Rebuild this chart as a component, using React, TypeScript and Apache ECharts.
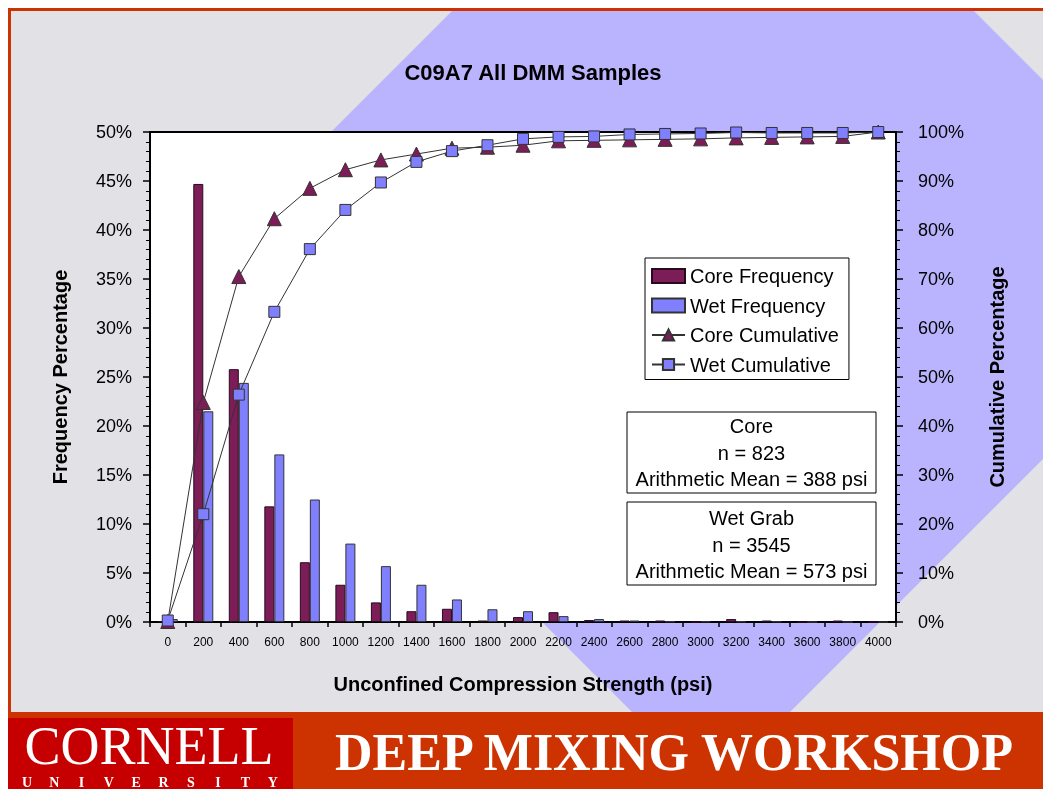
import React, { useEffect, useRef } from 'react';
import * as echarts from 'echarts';

const categories = ['0', '200', '400', '600', '800', '1000', '1200', '1400', '1600', '1800', '2000', '2200', '2400', '2600', '2800', '3000', '3200', '3400', '3600', '3800', '4000'];
const coreFrequency = [0.1, 44.7, 25.8, 11.8, 6.1, 3.8, 2.0, 1.1, 1.35, 0.15, 0.5, 1.0, 0.2, 0.15, 0.15, 0, 0.3, 0.15, 0, 0.15, 0];
const wetFrequency = [0.3, 21.5, 24.4, 17.1, 12.5, 8.0, 5.7, 3.8, 2.3, 1.3, 1.1, 0.6, 0.3, 0.15, 0.05, 0.05, 0.05, 0.05, 0, 0, 0];
const coreCumulative = [0.1, 44.8, 70.5, 82.3, 88.5, 92.3, 94.3, 95.5, 96.7, 96.9, 97.3, 98.2, 98.3, 98.4, 98.5, 98.6, 98.8, 98.9, 99.0, 99.1, 100];
const wetCumulative = [0.3, 22.0, 46.4, 63.3, 76.1, 84.1, 89.7, 93.9, 96.1, 97.3, 98.6, 99.0, 99.1, 99.5, 99.6, 99.7, 99.9, 99.8, 99.8, 99.8, 100];
const leftTickStep = 5;
const rightTickStep = 10;

const FONT = '"Liberation Sans", Arial, sans-serif';
const SERIF = '"Liberation Serif", "Times New Roman", serif';
const CORE_COLOR = '#7c1d58';
const WET_COLOR = '#8080ff';
const universityLetters = ['U', 'N', 'I', 'V', 'E', 'R', 'S', 'I', 'T', 'Y'];

export default function App() {
  const ref = useRef<HTMLDivElement>(null);
  useEffect(() => {
    if (!ref.current) return;
    const chart = echarts.init(ref.current, null, { renderer: 'svg' });

    const boxText = (lines: string[], x: number, ys: number[]) =>
      lines.map((t, i) => ({
        type: 'text',
        z: 101,
        style: { text: t, x, y: ys[i], textAlign: 'center', textVerticalAlign: 'middle', fontSize: 20, fontFamily: FONT, fill: '#000' },
      }));

    const option: any = {
      animation: false,
      textStyle: { fontFamily: FONT },
      title: {
        text: 'C09A7 All DMM Samples',
        left: 528,
        top: 55,
        textAlign: 'center',
        textStyle: { fontSize: 22, fontWeight: 'bold', color: '#000', fontFamily: FONT, lineHeight: 24 },
      },
      graphic: [
        { type: 'rect', z: -30, shape: { x: 8, y: 8, width: 1035, height: 781 }, style: { fill: '#cc3300' } },
        { type: 'rect', z: -29, shape: { x: 11, y: 11, width: 1032, height: 701 }, style: { fill: '#e2e2e6' } },
        {
          type: 'polygon', z: -28,
          shape: { points: [[452, 11], [974, 11], [1043, 80], [1043, 459], [790, 712], [632, 712], [191.5, 271.5]] },
          style: { fill: '#b9b4fd' },
        },
        { type: 'rect', z: -27, shape: { x: 8, y: 718, width: 285, height: 71 }, style: { fill: '#c60000' } },
        {
          type: 'text', z: -26,
          style: { text: 'CORNELL', x: 149, y: 746, textAlign: 'center', textVerticalAlign: 'middle', fontSize: 54, fontFamily: SERIF, fill: '#fff' },
        },
        ...universityLetters.map((l, i) => ({
          type: 'text', z: -26,
          style: { text: l, x: 27 + i * 27.3, y: 782, textAlign: 'center', textVerticalAlign: 'middle', fontSize: 14, fontWeight: 'bold', fontFamily: SERIF, fill: '#fff' },
        })),
        {
          type: 'text', z: -26,
          style: { text: 'DEEP MIXING WORKSHOP', x: 674, y: 752, textAlign: 'center', textVerticalAlign: 'middle', fontSize: 52, fontWeight: 'bold', fontFamily: SERIF, fill: '#fff' },
        },
        { type: 'rect', z: 100, shape: { x: 627, y: 412, width: 249, height: 81 }, style: { fill: '#fff', stroke: '#000', lineWidth: 1 } },
        ...boxText(['Core', 'n = 823', 'Arithmetic Mean = 388 psi'], 751.5, [426, 452.5, 479]),
        { type: 'rect', z: 100, shape: { x: 627, y: 502, width: 249, height: 83 }, style: { fill: '#fff', stroke: '#000', lineWidth: 1 } },
        ...boxText(['Wet Grab', 'n = 3545', 'Arithmetic Mean = 573 psi'], 751.5, [518, 544.5, 571]),
      ],
      legend: {
        orient: 'vertical',
        left: 645,
        top: 258,
        padding: [8, 10, 5, 6],
        itemGap: 9.5,
        itemWidth: 33,
        itemHeight: 14,
        selectedMode: false,
        backgroundColor: '#fff',
        borderColor: '#000',
        borderWidth: 1,
        textStyle: { fontSize: 20, lineHeight: 20, color: '#000', fontFamily: FONT },
        data: [
          { name: 'Core Frequency', icon: 'rect' },
          { name: 'Wet Frequency', icon: 'rect' },
          { name: 'Core Cumulative' },
          { name: 'Wet Cumulative' },
        ],
      },
      grid: {
        left: 150,
        right: 147,
        top: 132,
        bottom: 167,
        show: true,
        backgroundColor: '#fff',
        borderColor: '#000',
        borderWidth: 2,
      },
      xAxis: {
        type: 'category',
        data: categories,
        boundaryGap: true,
        axisLine: { lineStyle: { color: '#000', width: 2 } },
        axisTick: { show: true, length: 5, lineStyle: { color: '#000', width: 1.5 } },
        axisLabel: { interval: 0, fontSize: 12, color: '#000', margin: 14, fontFamily: FONT },
        name: 'Unconfined Compression Strength (psi)',
        nameLocation: 'middle',
        nameGap: 52,
        nameTextStyle: { fontSize: 20, fontWeight: 'bold', color: '#000', fontFamily: FONT },
      },
      yAxis: [
        {
          type: 'value',
          position: 'left',
          min: 0,
          max: 50,
          interval: leftTickStep,
          splitLine: { show: false },
          axisLine: { show: true, lineStyle: { color: '#000', width: 2 } },
          axisTick: { show: true, length: 7, lineStyle: { color: '#000', width: 1.5 } },
          minorTick: { show: true, splitNumber: 5, length: 4, lineStyle: { color: '#000', width: 1 } },
          axisLabel: { formatter: '{value}%', fontSize: 18, color: '#000', margin: 18, fontFamily: FONT },
          name: 'Frequency Percentage',
          nameLocation: 'middle',
          nameRotate: 90,
          nameGap: 80,
          nameTextStyle: { fontSize: 20, fontWeight: 'bold', color: '#000', fontFamily: FONT },
        },
        {
          type: 'value',
          position: 'right',
          min: 0,
          max: 100,
          interval: rightTickStep,
          splitLine: { show: false },
          axisLine: { show: true, lineStyle: { color: '#000', width: 2 } },
          axisTick: { show: true, length: 7, lineStyle: { color: '#000', width: 1.5 } },
          minorTick: { show: true, splitNumber: 5, length: 4, lineStyle: { color: '#000', width: 1 } },
          axisLabel: { formatter: '{value}%', fontSize: 18, color: '#000', margin: 22, fontFamily: FONT },
          name: 'Cumulative Percentage',
          nameLocation: 'middle',
          nameRotate: 90,
          nameGap: 91,
          nameTextStyle: { fontSize: 20, fontWeight: 'bold', color: '#000', fontFamily: FONT },
        },
      ],
      series: [
        {
          name: 'Core Frequency',
          type: 'bar',
          data: coreFrequency,
          barWidth: 10,
          barGap: '0%',
          itemStyle: { color: CORE_COLOR, borderColor: '#2a0a1e', borderWidth: 1 },
        },
        {
          name: 'Wet Frequency',
          type: 'bar',
          data: wetFrequency,
          barWidth: 10,
          barGap: '0%',
          itemStyle: { color: WET_COLOR, borderColor: '#333', borderWidth: 1 },
        },
        {
          name: 'Core Cumulative',
          type: 'line',
          yAxisIndex: 1,
          data: coreCumulative,
          symbol: 'triangle',
          symbolSize: 14,
          z: 5,
          lineStyle: { color: '#333', width: 1 },
          itemStyle: { color: CORE_COLOR, borderColor: '#333', borderWidth: 1 },
        },
        {
          name: 'Wet Cumulative',
          type: 'line',
          yAxisIndex: 1,
          data: wetCumulative,
          symbol: 'rect',
          symbolSize: 11,
          z: 6,
          lineStyle: { color: '#333', width: 1 },
          itemStyle: { color: WET_COLOR, borderColor: '#333', borderWidth: 1 },
        },
      ],
    };

    chart.setOption(option);
    return () => chart.dispose();
  }, []);

  return <div ref={ref} style={{ position: 'fixed', left: 0, top: 0, width: 1043, height: 789 }} />;
}
